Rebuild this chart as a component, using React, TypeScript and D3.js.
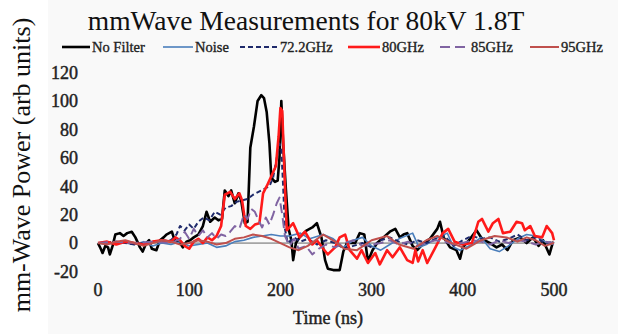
import * as d3 from 'd3';

type Pt = [number, number];

const X_TICKS = [0, 100, 200, 300, 400, 500];
const Y_TICKS = [-20, 0, 20, 40, 60, 80, 100, 120];

// [time ns, power]
const noFilter: Pt[] = [
  [0, 0], [3, -4], [5, -7], [8, -2], [11, -3], [13, -8], [16, -2], [19, 6], [24, 7], [28, 5], [32, 7], [37, 8],
  [41, 4], [46, -3], [49, -6], [53, 0], [56, 2], [59, -4], [64, -5], [68, 2], [72, 4], [75, 6], [81, 8], [84, 2],
  [90, 0], [93, -3], [97, 1], [101, 2], [105, 4], [110, 6], [115, 12], [119, 22], [123, 15], [128, 18], [132, 16],
  [136, 17], [139, 37], [143, 33], [146, 37], [150, 28], [154, 35], [157, 30], [161, 14], [164, 15], [167, 67],
  [171, 82], [175, 100], [179, 104], [182, 102], [185, 92], [188, 70], [190, 46], [194, 43], [197, 44], [199, 60],
  [201, 100], [203, 70], [206, 38], [209, 10], [212, 2], [214, -12], [217, 0], [221, 4], [229, 9], [235, 11],
  [240, 14], [245, 4], [249, -12], [252, -18], [258, -19], [265, -19], [269, -6], [273, 0], [282, 0], [287, 7],
  [292, 6], [296, -13], [301, -5], [306, 0], [313, 4], [320, 8], [326, 10], [331, 4], [335, 6], [339, 7], [345, -2],
  [350, -5], [357, 0], [364, 3], [372, 10], [375, 15], [379, 4], [386, -3], [393, -5], [397, -11], [400, -3],
  [408, 3], [415, 9], [421, 3], [430, 0], [437, -3], [443, -1], [449, -5], [455, 2], [463, 4], [470, 0], [477, 4],
  [483, -2], [488, 2], [495, -8], [499, 1],
];

const noise: Pt[] = [
  [0, 0], [10, -1], [20, 1], [30, 0], [40, -1], [50, 1], [60, -2], [70, 0], [80, -1], [90, 1], [100, -2], [110, -1],
  [120, 0], [130, -3], [140, -2], [150, 1], [160, 2], [170, 4], [180, 5], [190, 6], [200, 5], [210, 5], [222, 7],
  [232, 3], [247, 6], [258, 3], [269, -3], [280, 2], [290, 4], [300, -2], [310, -5], [320, -1], [330, 3], [345, 7],
  [352, -3], [360, -1], [370, 3], [383, 7], [390, -3], [397, -5], [410, -1], [420, 4], [430, -4], [440, -6],
  [450, -2], [460, 3], [470, 6], [480, 5], [490, 1], [500, -1],
];

const f72: Pt[] = [
  [0, 0], [20, 1], [40, -1], [60, 1], [80, 2], [86, 6], [90, 12], [95, 9], [100, 13], [105, 10], [110, 15],
  [116, 18], [122, 16], [128, 22], [134, 20], [140, 25], [146, 26], [152, 29], [158, 30], [164, 31], [170, 34],
  [176, 36], [182, 38], [188, 40], [192, 46], [196, 60], [199, 70], [201, 66], [203, 40], [205, 10], [208, 0],
  [215, 4], [222, 1], [230, 3], [240, -1], [250, 2], [260, 0], [270, -4], [280, -2], [290, 0], [300, -3], [310, 2],
  [320, 4], [330, 1], [340, -1], [350, 2], [360, 0], [370, 3], [380, 5], [390, -2], [400, 2], [410, 5], [420, 3],
  [430, 4], [440, 1], [450, 3], [460, 6], [470, 2], [480, 4], [490, 0], [500, 1],
];

const f80: Pt[] = [
  [0, 0], [10, 1], [20, -1], [30, 1], [40, 0], [50, -1], [60, 1], [70, 2], [80, 1], [85, 4], [90, 2], [95, -2],
  [100, -4], [105, 1], [110, 3], [115, 0], [120, 4], [125, 2], [130, 5], [135, 12], [139, 34], [145, 36],
  [150, 31], [155, 35], [158, 30], [162, 12], [167, 10], [172, 13], [177, 14], [181, 35], [185, 40], [190, 47],
  [195, 54], [198, 75], [200, 95], [202, 93], [205, 40], [207, 9], [214, 14], [221, 4], [227, 8], [235, -1],
  [240, 2], [247, -4], [252, -8], [260, -3], [265, 4], [271, 6], [276, -5], [284, -11], [289, -5], [296, -14],
  [304, -7], [309, -15], [317, -5], [323, -10], [331, -3], [339, -12], [345, -14], [348, -5], [351, -13],
  [356, -5], [361, -14], [370, -3], [378, 7], [384, 10], [391, 1], [400, -1], [410, 0], [417, 15], [421, 17],
  [428, 8], [433, 14], [439, 17], [444, 7], [452, 8], [459, 15], [465, 14], [468, 9], [474, 12], [479, 5],
  [487, 4], [492, 12], [498, 7], [500, 2],
];

const f85: Pt[] = [
  [0, 0], [20, 1], [40, 0], [60, 1], [80, 0], [90, 3], [95, 8], [100, 3], [105, 10], [110, 5], [115, 9], [120, 4],
  [125, 7], [130, 3], [135, 6], [140, 5], [145, 8], [150, 12], [155, 10], [160, 20], [164, 17], [168, 24],
  [172, 22], [176, 16], [180, 11], [184, 18], [188, 13], [192, 20], [196, 28], [199, 32], [202, 20], [205, 5],
  [210, -2], [215, 3], [220, -4], [228, -2], [235, -8], [242, -4], [250, -1], [260, -3], [270, 0], [280, 2],
  [290, -2], [300, -1], [310, 0], [320, 2], [330, -1], [340, 1], [350, -2], [360, 0], [370, 2], [380, 1],
  [390, -1], [400, 0], [410, 2], [420, 1], [430, -1], [440, 2], [450, 0], [460, 2], [470, 1], [480, -1],
  [490, 1], [500, 0],
];

const f95: Pt[] = [
  [0, 0], [10, -1], [20, 1], [30, 2], [40, 0], [50, -2], [60, 0], [70, 2], [80, 1], [90, -1], [100, 0], [110, 2],
  [120, 1], [130, -1], [140, 0], [150, 3], [160, 4], [170, 6], [180, 5], [190, 3], [200, 0], [210, -3], [220, -5],
  [230, -2], [247, 6], [260, 1], [270, -4], [284, -5], [300, 2], [317, 5], [330, -1], [346, -4], [360, 2],
  [372, 5], [388, 0], [404, -4], [420, 2], [435, 5], [448, 4], [460, 1], [470, 4], [480, 2], [490, -2], [500, 0],
];

const SERIES = [
  { name: 'No Filter', data: noFilter, color: '#000000', width: 2.6, dash: '' },
  { name: 'Noise', data: noise, color: '#4a7ebb', width: 1.6, dash: '' },
  { name: '72.2GHz', data: f72, color: '#1f2a6b', width: 2, dash: '5,3' },
  { name: '80GHz', data: f80, color: '#ff1a1a', width: 2.6, dash: '' },
  { name: '85GHz', data: f85, color: '#8064a2', width: 2, dash: '10,5' },
  { name: '95GHz', data: f95, color: '#c0504d', width: 2, dash: '' },
];

// legend slots: [lineStart, lineEnd, textStart]
const LEGEND_POS = [
  [62, 90, 92],
  [163, 193, 195],
  [240, 278, 280],
  [348, 380, 382],
  [440, 468, 471],
  [530, 559, 561],
];

export default function App() {
  const x = d3.scaleLinear().domain([0, 500]).range([98, 554]);
  const y = d3.scaleLinear().domain([-20, 120]).range([271.5, 72.5]);
  const line = d3
    .line<Pt>()
    .x((d) => x(d[0]))
    .y((d) => y(d[1]));
  const serif = 'Liberation Serif';
  // faux-bold: the reference's labels are heavier than regular Times
  const heavy = { fill: '#222', stroke: '#222', strokeWidth: 0.45 };

  return (
    <svg width={620} height={334} style={{ position: 'absolute', left: 0, top: 0 }}>
      <rect x={0} y={0} width={620} height={334} fill="#ffffff" />
      <rect x={48} y={0} width={570} height={334} fill="#f9f9f9" />
      <text x={306} y={30} textAnchor="middle" fontSize={27.5} fontFamily={serif} fill="#111">
        mmWave Measurements for 80kV 1.8T
      </text>
      <text
        transform={`translate(30,165) rotate(-90)`}
        textAnchor="middle"
        fontSize={26}
        fontFamily={serif}
        fill="#111"
      >
        mm-Wave Power (arb units)
      </text>
      {SERIES.map((s, i) => {
        const [a, b, t] = LEGEND_POS[i];
        return (
          <g key={s.name}>
            <line x1={a} x2={b} y1={47} y2={47} stroke={s.color} strokeWidth={s.width} strokeDasharray={s.dash || undefined} />
            <text x={t} y={51.5} fontSize={14.5} fontFamily={serif} {...heavy} strokeWidth={0.35}>
              {s.name}
            </text>
          </g>
        );
      })}
      {Y_TICKS.map((v) => (
        <text key={v} x={78} y={y(v)} dy="0.35em" textAnchor="end" fontSize={18} fontFamily={serif} {...heavy}>
          {v}
        </text>
      ))}
      {X_TICKS.map((v) => (
        <text key={v} x={x(v)} y={296} textAnchor="middle" fontSize={18} fontFamily={serif} {...heavy}>
          {v}
        </text>
      ))}
      <text x={328} y={324} textAnchor="middle" fontSize={18} fontFamily={serif} {...heavy}>
        Time (ns)
      </text>
      <line x1={x(0)} x2={x(500)} y1={y(0)} y2={y(0)} stroke="#666" strokeWidth={1} />
      {SERIES.map((s) => (
        <path
          key={s.name}
          d={line(s.data) ?? ''}
          fill="none"
          stroke={s.color}
          strokeWidth={s.width}
          strokeDasharray={s.dash || undefined}
          strokeLinejoin="round"
        />
      ))}
    </svg>
  );
}
